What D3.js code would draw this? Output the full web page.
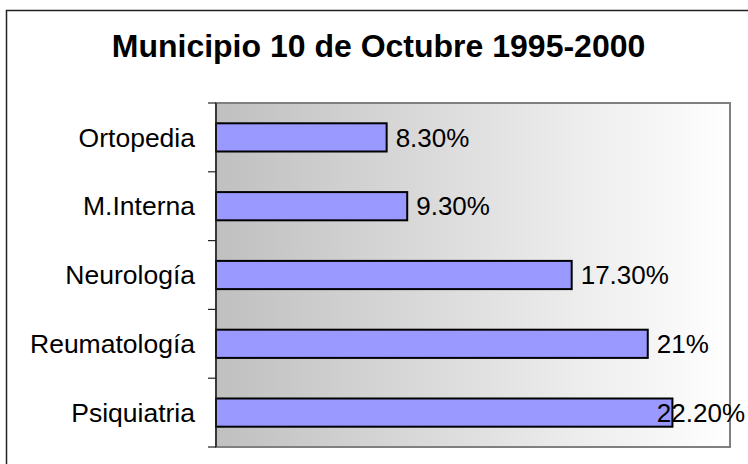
<!DOCTYPE html>
<html>
<head>
<meta charset="utf-8">
<script src="https://cdn.jsdelivr.net/npm/d3@7"></script>
<style>
  body { margin: 0; background: #fff; }
  svg { display: block; font-family: "Liberation Sans", Arial, sans-serif; }
</style>
</head>
<body>
<svg id="chart" width="748" height="464"></svg>
<script>
// chart data
const categories = ['Ortopedia', 'M.Interna', 'Neurología', 'Reumatología', 'Psiquiatria'];
const values = [8.3, 9.3, 17.3, 21, 22.2];
const valueLabels = ['8.30%', '9.30%', '17.30%', '21%', '22.20%'];
const xDomain = [0, 25];
const title = 'Municipio 10 de Octubre 1995-2000';

const svg = d3.select('#chart');
const plot = { left: 216, top: 103, right: 730, bottom: 447 };

// outer frame (right/bottom edges fall outside the picture)
svg.append('rect')
    .attr('x', 6.5).attr('y', 10.5)
    .attr('width', 760).attr('height', 470)
    .attr('fill', '#fff')
    .attr('stroke', '#222')
    .attr('stroke-width', 1.5);

// title
svg.append('text')
    .attr('x', 378.5)
    .attr('y', 57)
    .attr('text-anchor', 'middle')
    .attr('font-size', '32px')
    .attr('font-weight', 'bold')
    .attr('fill', '#000')
    .text(title);

// plot area gradient
const defs = svg.append('defs');
const grad = defs.append('linearGradient')
    .attr('id', 'plotGrad')
    .attr('x1', '0%').attr('x2', '100%')
    .attr('y1', '0%').attr('y2', '0%');
grad.append('stop').attr('offset', '0%').attr('stop-color', '#c0c0c0');
grad.append('stop').attr('offset', '100%').attr('stop-color', '#ffffff');

svg.append('rect')
    .attr('x', plot.left).attr('y', plot.top)
    .attr('width', plot.right - plot.left)
    .attr('height', plot.bottom - plot.top)
    .attr('fill', 'url(#plotGrad)')
    .attr('stroke', '#808080')
    .attr('stroke-width', 2);

// scales
const x = d3.scaleLinear().domain(xDomain).range([plot.left, plot.right]);
const y = d3.scaleBand()
    .domain(categories)
    .range([plot.top, plot.bottom])
    .paddingInner(0.59)
    .paddingOuter(0.295);
const tickPos = d3.scaleLinear().domain([0, categories.length]).range([plot.top, plot.bottom]);

// bars
svg.selectAll('.bar')
    .data(categories)
    .enter()
    .append('rect')
    .attr('class', 'bar')
    .attr('x', x(0))
    .attr('y', d => y(d))
    .attr('width', (d, i) => x(values[i]) - x(0))
    .attr('height', y.bandwidth())
    .attr('fill', '#9999ff')
    .attr('stroke', '#000')
    .attr('stroke-width', 2);

// left axis line and ticks at category boundaries
svg.append('line')
    .attr('x1', plot.left).attr('x2', plot.left)
    .attr('y1', plot.top).attr('y2', plot.bottom)
    .attr('stroke', '#222')
    .attr('stroke-width', 1.5);

svg.selectAll('.tick')
    .data(d3.range(categories.length + 1))
    .enter()
    .append('line')
    .attr('class', 'tick')
    .attr('x1', plot.left - 8).attr('x2', plot.left)
    .attr('y1', d => tickPos(d)).attr('y2', d => tickPos(d))
    .attr('stroke', '#222')
    .attr('stroke-width', 1.2);

// category labels
svg.selectAll('.cat')
    .data(categories)
    .enter()
    .append('text')
    .attr('class', 'cat')
    .attr('x', 195)
    .attr('y', d => y(d) + y.bandwidth() / 2)
    .attr('dy', '0.35em')
    .attr('text-anchor', 'end')
    .attr('font-size', '26.5px')
    .attr('fill', '#000')
    .text(d => d);

// value labels (kept inside the chart frame like the original)
svg.selectAll('.val')
    .data(categories)
    .enter()
    .append('text')
    .attr('class', 'val')
    .attr('y', d => y(d) + y.bandwidth() / 2)
    .attr('dy', '0.35em')
    .attr('font-size', '26px')
    .attr('fill', '#000')
    .text((d, i) => valueLabels[i])
    .attr('x', function(d, i) {
        const w = this.getComputedTextLength();
        return Math.min(x(values[i]) + 9, 745 - w);
    });
</script>
</body>
</html>
